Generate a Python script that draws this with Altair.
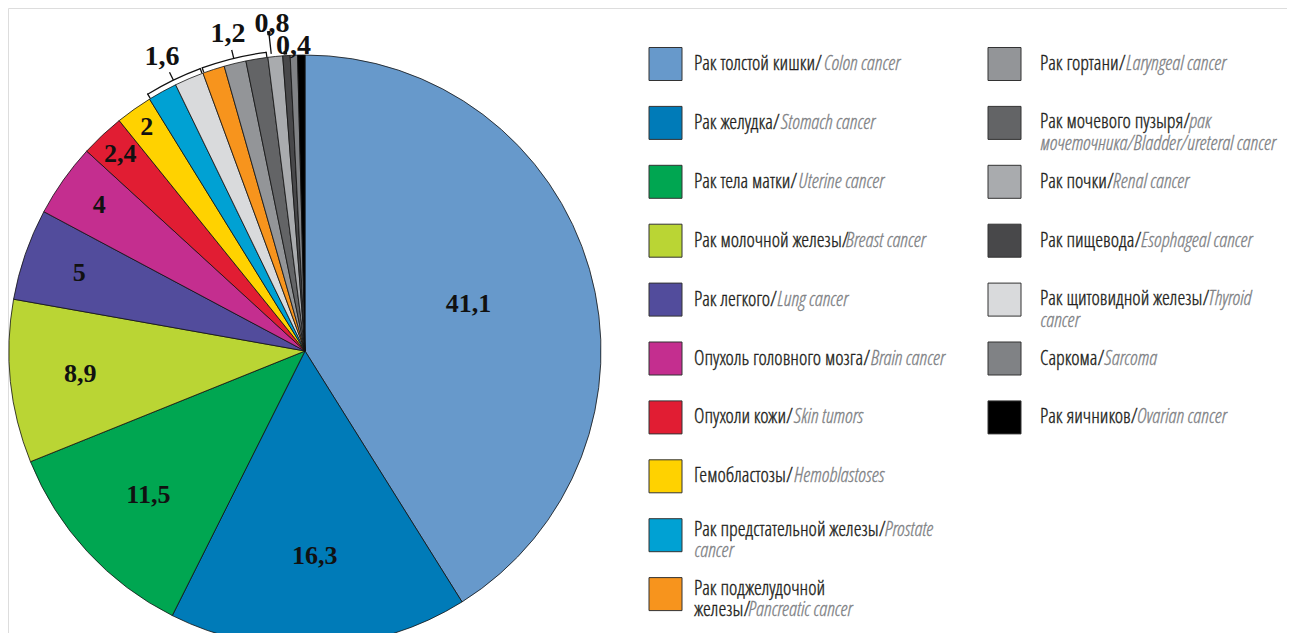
import math
import altair as alt
import pandas as pd

# ---------------- data ----------------
SLICE_KEYS = ["colon", "stomach", "uterine", "breast", "lung", "brain", "skin", "hemo",
              "prostate", "thyroid", "pancreatic", "laryngeal", "bladder", "renal",
              "esophageal", "sarcoma", "ovarian"]
SLICE_VALUES = [41.1, 16.3, 11.5, 8.9, 5, 4, 2.4, 2, 1.6, 1.6, 1.2, 1.2, 1.2, 0.8, 0.4, 0.4, 0.4]
SLICE_LABELS = ["41,1", "16,3", "11,5", "8,9", "5", "4", "2,4", "2",
                "", "", "", "", "", "", "", "", ""]
SLICE_COLORS = ["#6799cb", "#007bb8", "#00a651", "#bad534", "#524c9c", "#c42e8f", "#e11d33",
                "#ffd200", "#00a1d3", "#d9dadc", "#f7941d", "#939598", "#636466", "#a9abae",
                "#48484a", "#808285", "#000000"]

GROUP_LABELS = ["1,6", "1,2", "0,8", "0,4"]
GROUP_MEMBERS = [["prostate", "thyroid"], ["pancreatic", "laryngeal", "bladder"],
                 ["renal"], ["esophageal", "sarcoma", "ovarian"]]

LEGEND_COL1 = ["colon", "stomach", "uterine", "breast", "lung", "brain", "skin", "hemo",
               "prostate", "pancreatic"]
LEGEND_COL2 = ["laryngeal", "bladder", "renal", "esophageal", "thyroid", "sarcoma", "ovarian"]
LEGEND_TEXT = {
    "colon": [("Рак толстой кишки/", "Colon cancer")],
    "stomach": [("Рак желудка/", "Stomach cancer")],
    "uterine": [("Рак тела матки/", "Uterine cancer")],
    "breast": [("Рак молочной железы/", "Breast cancer")],
    "lung": [("Рак легкого/", "Lung cancer")],
    "brain": [("Опухоль головного мозга/", "Brain cancer")],
    "skin": [("Опухоли кожи/", "Skin tumors")],
    "hemo": [("Гемобластозы/", "Hemoblastoses")],
    "prostate": [("Рак предстательной железы/", "Prostate"), ("", "cancer")],
    "pancreatic": [("Рак поджелудочной", ""), ("железы/", "Pancreatic cancer")],
    "laryngeal": [("Рак гортани/", "Laryngeal cancer")],
    "bladder": [("Рак мочевого пузыря/", "рак"), ("", "мочеточника/Bladder/ureteral cancer")],
    "renal": [("Рак почки/", "Renal cancer")],
    "esophageal": [("Рак пищевода/", "Esophageal cancer")],
    "thyroid": [("Рак щитовидной железы/", "Thyroid"), ("", "cancer")],
    "sarcoma": [("Саркома/", "Sarcoma")],
    "ovarian": [("Рак яичников/", "Ovarian cancer")],
}

# ---------------- layout ----------------
W, H = 1279, 625
CX, CY, R = 297, 343, 296
LABEL_R = {"colon": 170, "stomach": 205, "uterine": 213, "breast": 226, "lung": 239,
           "brain": 252, "skin": 270, "hemo": 274}
GROUP_LABEL_R = [R + 31, R + 30, R + 33, R + 9]
ROW0, ROW_STEP = 56, 58.9
SQ_X = [657.5, 996.5]
TXT_X = [686, 1032]
TWO_LINE_OFF = [[-5, 16], [-1, 21]]
FONT = "'Open Sans Condensed Light', 'Open Sans Condensed', sans-serif"
FS = 20
NUM_FONT = "Liberation Serif"
GAP = 2.5

# approximate glyph advance widths (1/1000 em, Arial-like base adjusted toward the
# condensed face); NARROW rescales to the condensed font
CW = {" ": 278, "/": 278,
      "а": 541, "б": 553, "в": 561, "г": 395, "д": 543, "е": 526, "ж": 629, "з": 438,
      "и": 579, "й": 579, "к": 438, "л": 543, "м": 668, "н": 552, "о": 586, "п": 562,
      "р": 576, "с": 500, "т": 428, "у": 510, "ф": 823, "х": 500, "ц": 560, "ч": 561,
      "ш": 802, "щ": 823, "ъ": 625, "ы": 689, "ь": 521, "э": 510, "ю": 750, "я": 572,
      "Р": 667, "О": 778, "Г": 512, "С": 722}
NARROW = 0.71


def text_w(s):
    return sum(CW.get(c, 556) for c in s) * NARROW * FS / 1000.0


# ---------------- tables ----------------
TO_UNITS = 100.0 / (2 * math.pi)
cum = 0.0
pie_rows = []
for k, v, lab in zip(SLICE_KEYS, SLICE_VALUES, SLICE_LABELS):
    pie_rows.append({"key": k, "value": v, "start": cum, "end": cum + v, "mid": cum + v / 2,
                     "label": lab, "lr": LABEL_R.get(k, 0)})
    cum += v
pie = pd.DataFrame(pie_rows)
span = {r["key"]: (r["start"], r["end"]) for r in pie_rows}

color_scale = alt.Scale(domain=SLICE_KEYS, range=SLICE_COLORS)
theta_scale = alt.Scale(domain=[0, 100], range=[0, 2 * math.pi])

br = []
glab = []
for gi, (lab, mem) in enumerate(zip(GROUP_LABELS, GROUP_MEMBERS)):
    g0 = span[mem[0]][0]
    g1 = span[mem[-1]][1]
    gm = (g0 + g1) / 2
    glab.append({"label": lab, "mid": gm, "lr": GROUP_LABEL_R[gi]})
    lw = 1.3 / (R + 5) * TO_UNITS
    if len(mem) > 1 and lab != "0,4":
        br.append({"t0": g0 + 0.05, "t1": g1 - 0.05, "r0": R + 4.5, "r1": R + 5.8})
        br.append({"t0": g0 + 0.02, "t1": g0 + 0.02 + lw, "r0": R + 0.5, "r1": R + 5.8})
        br.append({"t0": g1 - 0.02 - lw, "t1": g1 - 0.02, "r0": R + 0.5, "r1": R + 5.8})
        br.append({"t0": gm - lw / 2, "t1": gm + lw / 2, "r0": R + 5, "r1": R + 14})
    elif lab == "0,8":
        br.append({"t0": gm - 0.2 - lw / 2, "t1": gm - 0.2 + lw / 2, "r0": R + 3, "r1": R + 24})
        dw = 3.5 / (R + 24) * TO_UNITS
        br.append({"t0": gm - 0.2 - dw / 2, "t1": gm - 0.2 + dw / 2, "r0": R + 22, "r1": R + 26})
    else:
        dw = 3.5 / (R + 2) * TO_UNITS
        br.append({"t0": gm - 0.45 - dw / 2, "t1": gm - 0.45 + dw / 2, "r0": R + 1, "r1": R + 4.5})
brackets = pd.DataFrame(br)
glabels = pd.DataFrame(glab)

sq_rows, ru_rows, en_rows = [], [], []
for ci, keys in enumerate([LEGEND_COL1, LEGEND_COL2]):
    for ri, k in enumerate(keys):
        yc = ROW0 + ri * ROW_STEP
        sq_rows.append({"key": k, "x": SQ_X[ci], "y": yc})
        lines = LEGEND_TEXT[k]
        offs = [0] if len(lines) == 1 else TWO_LINE_OFF[ci]
        for (ru, en), off in zip(lines, offs):
            if ru:
                ru_rows.append({"t": ru, "x": TXT_X[ci], "y": yc + off})
            if en:
                en_rows.append({"t": en, "x": TXT_X[ci] + (text_w(ru) + GAP if ru else 0),
                                "y": yc + off})
sq = pd.DataFrame(sq_rows)
ru_df = pd.DataFrame(ru_rows)
en_df = pd.DataFrame(en_rows)

# ---------------- chart ----------------
pie_layer = alt.Chart(pie).mark_arc(radius=R, stroke="#111111", strokeWidth=0.8).encode(
    theta=alt.Theta("start:Q", scale=theta_scale),
    theta2="end:Q",
    color=alt.Color("key:N", scale=color_scale, legend=None),
    x=alt.value(CX), y=alt.value(CY),
)

pie_text = alt.Chart(pie).transform_filter("datum.label != ''").mark_text(
    font=NUM_FONT, fontSize=26, fontWeight="bold", color="#111111",
    align="center", baseline="middle"
).encode(
    theta=alt.Theta("mid:Q", scale=theta_scale),
    radius=alt.Radius("lr:Q", scale=None),
    text="label:N",
    x=alt.value(CX), y=alt.value(CY),
)

bracket_layer = alt.Chart(brackets).mark_arc(color="#111111").encode(
    theta=alt.Theta("t0:Q", scale=theta_scale),
    theta2="t1:Q",
    radius=alt.Radius("r0:Q", scale=None),
    radius2="r1:Q",
    x=alt.value(CX), y=alt.value(CY),
)

group_text = alt.Chart(glabels).mark_text(
    font=NUM_FONT, fontSize=28, fontWeight="bold", color="#111111",
    align="center", baseline="middle"
).encode(
    theta=alt.Theta("mid:Q", scale=theta_scale),
    radius=alt.Radius("lr:Q", scale=None),
    text="label:N",
    x=alt.value(CX), y=alt.value(CY),
)

sq_layer = alt.Chart(sq).mark_square(size=33 * 33, opacity=1, stroke="#333333",
                                     strokeWidth=1).encode(
    x=alt.X("x:Q", scale=None, axis=None),
    y=alt.Y("y:Q", scale=None, axis=None),
    fill=alt.Fill("key:N", scale=color_scale, legend=None),
)

ru_layer = alt.Chart(ru_df).mark_text(
    font=FONT, fontSize=FS, fontWeight=300, color="#231f20", stroke="#231f20",
    strokeWidth=0.35, align="left", baseline="middle"
).encode(
    x=alt.X("x:Q", scale=None, axis=None),
    y=alt.Y("y:Q", scale=None, axis=None),
    text="t:N",
)

en_layer = alt.Chart(en_df).mark_text(
    font=FONT, fontSize=FS, fontWeight=300, fontStyle="italic", color="#808285",
    stroke="#808285", strokeWidth=0.3, align="left", baseline="middle"
).encode(
    x=alt.X("x:Q", scale=None, axis=None),
    y=alt.Y("y:Q", scale=None, axis=None),
    text="t:N",
)

chart = alt.layer(
    pie_layer, pie_text, bracket_layer, group_text, sq_layer, ru_layer, en_layer
).properties(
    width=W, height=H, padding=0, autosize=alt.AutoSizeParams(type="none")
).configure_view(stroke=None).configure(background="white")

chart.save("out.html", embed_options={"renderer": "svg", "actions": False})
